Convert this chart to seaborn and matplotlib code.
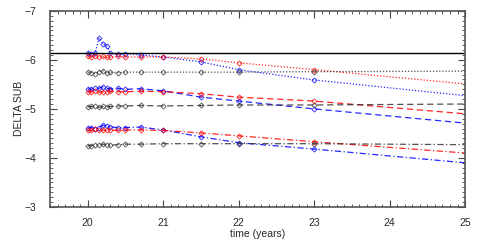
import numpy as np
import pandas as pd
import matplotlib
matplotlib.use("Agg")
import matplotlib.pyplot as plt
import seaborn as sns
from matplotlib.ticker import MultipleLocator

sns.set_theme(style="ticks")
plt.rcParams['font.family'] = ['Liberation Sans', 'DejaVu Sans']

time = [20.0, 20.05, 20.1, 20.15, 20.2, 20.25, 20.3, 20.4, 20.5, 20.7, 21.0, 21.5, 22.0, 23.0, 25.0]

blue_dot = [-6.15, -6.12, -6.15, -6.45, -6.33, -6.29, -6.14, -6.12, -6.13, -6.10, -6.06, -5.96, -5.80, -5.59, -5.27]
red_dot = [-6.07, -6.06, -6.08, -6.06, -6.07, -6.05, -6.06, -6.07, -6.06, -6.06, -6.06, -6.02, -5.94, -5.80, -5.51]
black_dot = [-5.75, -5.74, -5.72, -5.76, -5.78, -5.73, -5.75, -5.74, -5.75, -5.75, -5.75, -5.75, -5.75, -5.76, -5.77]

blue_dash = [-5.41, -5.40, -5.43, -5.42, -5.45, -5.42, -5.41, -5.42, -5.40, -5.41, -5.37, -5.24, -5.16, -5.00, -4.71]
red_dash = [-5.35, -5.35, -5.36, -5.34, -5.35, -5.35, -5.36, -5.35, -5.35, -5.36, -5.35, -5.31, -5.24, -5.16, -4.90]
black_dash = [-5.04, -5.05, -5.06, -5.03, -5.05, -5.04, -5.05, -5.06, -5.06, -5.07, -5.06, -5.07, -5.08, -5.08, -5.10]

blue_dd = [-4.61, -4.62, -4.60, -4.62, -4.67, -4.65, -4.63, -4.62, -4.62, -4.63, -4.57, -4.43, -4.31, -4.18, -3.90]
red_dd = [-4.57, -4.56, -4.58, -4.57, -4.57, -4.56, -4.57, -4.56, -4.57, -4.57, -4.56, -4.51, -4.45, -4.33, -4.10]
black_dd = [-4.25, -4.25, -4.27, -4.26, -4.28, -4.27, -4.26, -4.27, -4.28, -4.28, -4.29, -4.29, -4.29, -4.29, -4.27]

ref_level = -6.15

fig, ax = plt.subplots(figsize=(4.85, 2.42), dpi=100)
fig.subplots_adjust(left=0.103, right=0.959, bottom=0.145, top=0.955)

series = [
    (blue_dot, "blue", (0, (1, 1.5))), (red_dot, "red", (0, (1, 1.5))), (black_dot, "#333333", (0, (1, 1.5))),
    (blue_dash, "blue", (0, (5, 3))), (red_dash, "red", (0, (5, 3))), (black_dash, "#333333", (0, (5, 3))),
    (blue_dd, "blue", (0, (5, 2, 1, 2))), (red_dd, "red", (0, (5, 2, 1, 2))), (black_dd, "#333333", (0, (5, 2, 1, 2))),
]
for vals, col, ls in series:
    sns.lineplot(x=time, y=vals, ax=ax, color=col, linestyle=ls, linewidth=0.9,
                 marker="D", markersize=2.6, markerfacecolor="none",
                 markeredgecolor=col, markeredgewidth=0.6,
                 markevery=slice(0, len(time) - 1), alpha=0.85)

ax.axhline(ref_level, color="black", linewidth=1.0)

ax.set_xlim(19.5, 25)
ax.set_ylim(-3, -7)
ax.xaxis.set_major_locator(MultipleLocator(1))
ax.xaxis.set_minor_locator(MultipleLocator(0.1))
ax.yaxis.set_major_locator(MultipleLocator(1))
ax.yaxis.set_minor_locator(MultipleLocator(0.1))
ax.tick_params(which="both", direction="in", top=True, right=True, labelsize=7.5,
               color="#444444")
ax.tick_params(which="major", length=5, width=0.8)
ax.tick_params(which="minor", length=2.5, width=0.6)
ax.tick_params(axis="x", which="major", pad=8)
ax.tick_params(axis="y", which="major", pad=10)
for s in ax.spines.values():
    s.set_color("#555555")
    s.set_linewidth(1.2)
ax.set_xlabel("time (years)", fontsize=7.5, labelpad=1)
ax.set_ylabel("DELTA SUB", fontsize=7.5, labelpad=0)

fig.savefig("out.png", dpi=100)
